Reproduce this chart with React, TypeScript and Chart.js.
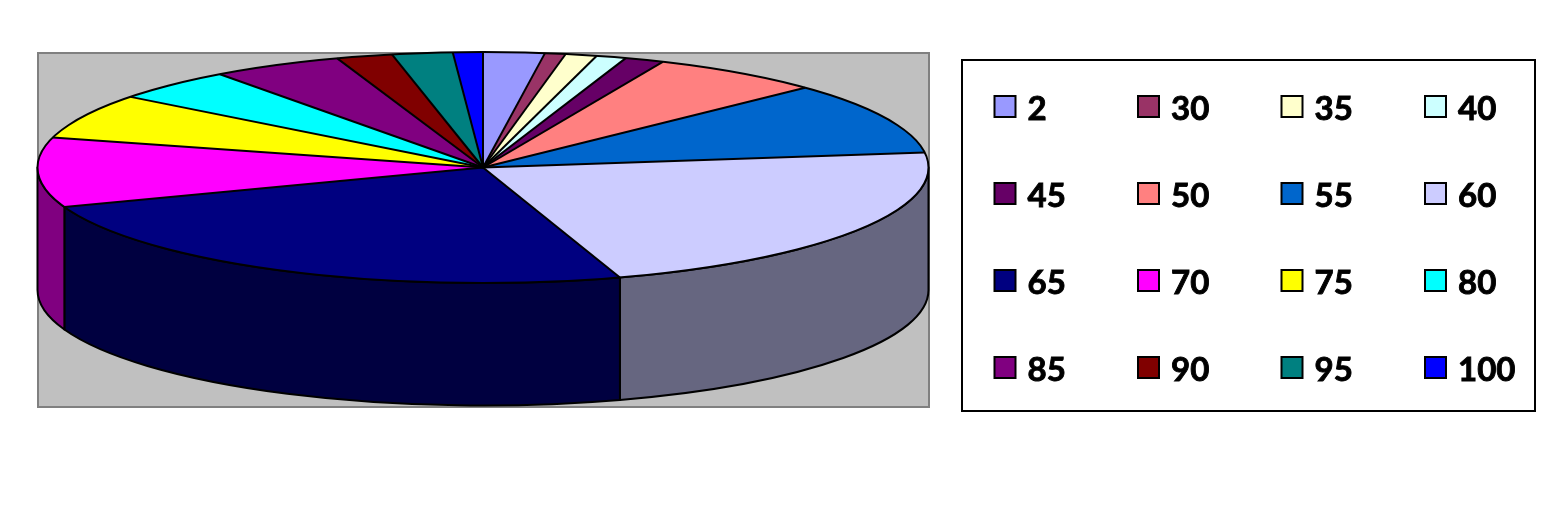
import React, { useEffect, useRef } from "react";
import { Chart, registerables } from "chart.js";

Chart.register(...registerables);

const categories = ["2", "30", "35", "40", "45", "50", "55", "60", "65", "70", "75", "80", "85", "90", "95", "100"];
const shares = [8, 2.7, 4.1, 3.9, 5.1, 22.5, 36.2, 79.6, 87.9, 35, 22.7, 16.1, 17.1, 7.3, 7.9, 3.9];
const topColors = ["#9999FF", "#993366", "#FFFFCC", "#CCFFFF", "#660066", "#FF8080", "#0066CC", "#CCCCFF", "#000080", "#FF00FF", "#FFFF00", "#00FFFF", "#800080", "#800000", "#008080", "#0000FF"];
const sideColors = ["#4D4D80", "#4D1A33", "#808066", "#668080", "#330033", "#804040", "#003366", "#666680", "#000040", "#800080", "#808000", "#008080", "#400040", "#400000", "#004040", "#000080"];

const RX = 445.5;
const RY = 115.5;
const DEPTH = 122.5;

const piePlugin = {
  id: "pie3d",
  beforeDraw(chart: any) {
    const { ctx } = chart;
    ctx.save();
    ctx.fillStyle = "#FFFFFF";
    ctx.fillRect(0, 0, chart.width, chart.height);
    ctx.fillStyle = "#C0C0C0";
    ctx.strokeStyle = "#808080";
    ctx.lineWidth = 2;
    ctx.beginPath();
    ctx.rect(38, 53, 891, 354);
    ctx.fill();
    ctx.stroke();
    ctx.restore();
  },
  beforeDatasetsDraw(chart: any) {
    const { ctx } = chart;
    const arcs = chart.getDatasetMeta(0).data;
    const cx = arcs[0].x;
    const cy = arcs[0].y;
    ctx.save();
    ctx.lineWidth = 2;
    ctx.strokeStyle = "#000000";
    ctx.lineJoin = "round";
    arcs.forEach((arc: any, i: number) => {
      const a0 = Math.max(arc.startAngle, 0);
      const a1 = Math.min(arc.endAngle, Math.PI);
      if (a1 <= a0) return;
      ctx.beginPath();
      ctx.ellipse(cx, cy, RX, RY, 0, a0, a1);
      ctx.ellipse(cx, cy + DEPTH, RX, RY, 0, a1, a0, true);
      ctx.closePath();
      ctx.fillStyle = sideColors[i];
      ctx.fill();
      ctx.stroke();
    });
    ctx.restore();
    ctx.save();
    ctx.translate(cx, cy);
    ctx.scale(1, RY / RX);
    ctx.translate(-cx, -cy);
  },
  afterDatasetsDraw(chart: any) {
    const { ctx } = chart;
    ctx.restore();
    const arcs = chart.getDatasetMeta(0).data;
    const cx = arcs[0].x;
    const cy = arcs[0].y;
    ctx.save();
    ctx.lineWidth = 2;
    ctx.strokeStyle = "#000000";
    arcs.forEach((arc: any) => {
      ctx.beginPath();
      ctx.moveTo(cx, cy);
      ctx.lineTo(cx + RX * Math.cos(arc.startAngle), cy + RY * Math.sin(arc.startAngle));
      ctx.stroke();
    });
    ctx.beginPath();
    ctx.ellipse(cx, cy, RX, RY, 0, 0, Math.PI * 2);
    ctx.stroke();
    ctx.restore();

    // Legend box
    ctx.save();
    ctx.fillStyle = "#FFFFFF";
    ctx.strokeStyle = "#000000";
    ctx.lineWidth = 2;
    ctx.beginPath();
    ctx.rect(962, 60, 573, 351);
    ctx.fill();
    ctx.stroke();
    ctx.font = "bold 33px Lato";
    ctx.textBaseline = "middle";
    ctx.textAlign = "left";
    categories.forEach((label, i) => {
      const col = i % 4;
      const row = Math.floor(i / 4);
      const x = 994.5 + col * 143.5;
      const y = 96 + row * 87;
      ctx.fillStyle = topColors[i];
      ctx.lineWidth = 2;
      ctx.beginPath();
      ctx.rect(x, y, 21, 21);
      ctx.fill();
      ctx.stroke();
      ctx.fillStyle = "#000000";
      ctx.lineWidth = 0.9;
      ctx.fillText(label, x + 33, y + 13);
      ctx.strokeText(label, x + 33, y + 13);
    });
    ctx.restore();
  },
};

export default function App() {
  const ref = useRef<HTMLCanvasElement>(null);
  useEffect(() => {
    document.body.style.margin = "0";
    const chart = new Chart(ref.current as HTMLCanvasElement, {
      type: "pie",
      data: {
        labels: categories,
        datasets: [
          {
            data: shares,
            backgroundColor: topColors,
            borderWidth: 0,
            clip: false,
          } as any,
        ],
      },
      options: {
        responsive: false,
        animation: false,
        devicePixelRatio: 1,
        radius: RX,
        layout: { padding: { left: 37.5, right: 618.5, top: 52, bottom: 222 } },
        plugins: { legend: { display: false }, tooltip: { enabled: false } },
      } as any,
      plugins: [piePlugin],
    });
    return () => chart.destroy();
  }, []);
  return (
    <div style={{ width: 1547, height: 505 }}>
      <canvas ref={ref} width={1547} height={505} style={{ display: "block" }} />
    </div>
  );
}
